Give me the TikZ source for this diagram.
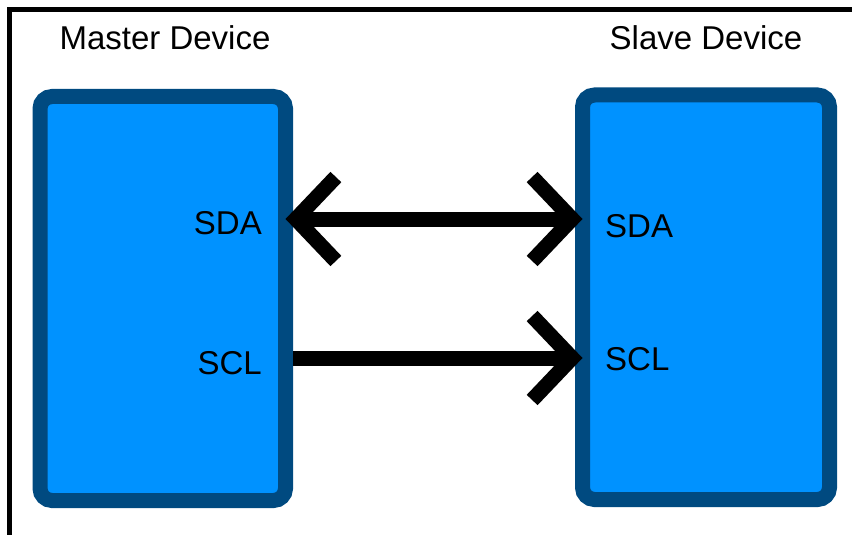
\documentclass[tikz,border=0pt]{standalone}
\usepackage{fontspec}
\setmainfont{Liberation Sans}
\usetikzlibrary{arrows.meta}
\definecolor{devfill}{RGB}{0,146,255}
\definecolor{devedge}{RGB}{0,74,128}

\begin{document}
\begin{tikzpicture}[
    x=1pt, y=-1pt,
    device/.style={
        draw=devedge,
        fill=devfill,
        line width=15pt,
        rounded corners=12pt,
        outer sep=0pt,
        inner sep=0pt
    },
    title/.style={
        anchor=base,
        font=\fontsize{33}{40}\selectfont,
        inner sep=0pt
    },
    pin/.style={
        font=\fontsize{33}{40}\selectfont,
        inner sep=0pt
    },
    wire/.style={
        line width=15pt,
        black,
        {Straight Barb[sharp,length=40pt,width=84pt]}-{Straight Barb[sharp,length=40pt,width=84pt]}
    },
    oneway/.style={
        line width=15pt,
        black,
        -{Straight Barb[sharp,length=40pt,width=84pt]}
    }
]
\useasboundingbox (0,0) rectangle (852,535);

% frame (only top and left edges)
\draw[line width=5pt] (9.5,535) -- (9.5,9.5) -- (852,9.5);

% ============================================================
% DEVICES
% ============================================================

\node[device, minimum width=245.5pt, minimum height=404pt] (master) at (162.75,298.5) {};
\node[device, minimum width=247pt, minimum height=404.5pt] (slave) at (706,297.25) {};

\node[title] (mtitle) at (165,50) {Master Device};
\node[title] (stitle) at (706,50) {Slave Device};

% pin labels
\node[pin, anchor=base east] (msda) at (262,234) {SDA};
\node[pin, anchor=base east] (mscl) at (262,374) {SCL};
\node[pin, anchor=base west] (ssda) at (605,237) {SDA};
\node[pin, anchor=base west] (sscl) at (605,370) {SCL};

% ============================================================
% BUS LINES
% ============================================================

\coordinate (sda) at (0,219);
\coordinate (scl) at (0,358);

\draw[wire] (master.east |- sda) -- (slave.west |- sda);
\draw[oneway, shorten <=7.5pt] (master.east |- scl) -- (slave.west |- scl);

\end{tikzpicture}
\end{document}
